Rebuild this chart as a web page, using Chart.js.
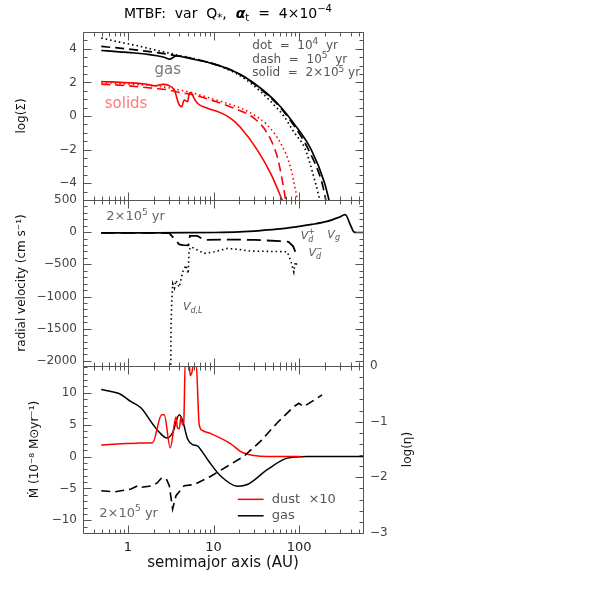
<!DOCTYPE html>
<html>
<head>
<meta charset="utf-8">
<script src="https://cdn.jsdelivr.net/npm/chart.js@4.4.0/dist/chart.umd.min.js"></script>
<style>
html, body { margin: 0; padding: 0; background: #fff; }
#wrap { position: relative; width: 598px; height: 598px; }
canvas { position: absolute; left: 0; }
</style>
</head>
<body>
<div id="wrap">
  <canvas id="pSigma" width="598" height="215" style="top:0px"></canvas>
  <canvas id="pVel" width="598" height="196" style="top:185px"></canvas>
  <canvas id="pMdot" width="598" height="247" style="top:351px"></canvas>
</div>
<script>
const FONT = '"DejaVu Sans", sans-serif';
const X_MIN = 0.313, X_MAX = 555;

// x ticks (semimajor axis, AU)
const xMajor = [1, 10, 100];
const xMinor = [0.4, 0.5, 0.6, 0.7, 0.8, 0.9, 2, 3, 4, 5, 6, 7, 8, 9,
                20, 30, 40, 50, 60, 70, 80, 90, 200, 300, 400, 500];

// panel 1: log(Sigma)
const sigmaTicks = [-4, -2, 0, 2, 4];
const gasR_1e4 = [0.49, 0.8, 1.3, 2, 3, 4, 5.5, 9.3, 15, 22.7, 35.5, 55.5, 66, 86.5, 118, 155, 180];
const gasSig_1e4 = [4.64, 4.4, 4.18, 3.95, 3.75, 3.6, 3.45, 3.15, 2.75, 2.25, 1.45, 0.45, 0, -0.95, -2, -4, -5.3];
const gasR_1e5 = [0.49, 0.8, 1.3, 2, 2.8, 3.6, 5, 9.3, 15, 22.7, 35.5, 55.5, 86.5, 128, 185, 210];
const gasSig_1e5 = [4.14, 4.04, 3.92, 3.8, 3.7, 3.6, 3.48, 3.15, 2.8, 2.33, 1.6, 0.7, -0.55, -2, -4, -5.3];
const gasR_2e5 = [0.49, 0.8, 1.2, 1.8, 2.44, 2.8, 3.05, 3.3, 3.65, 5, 9.3, 15, 22.7, 35.5, 55.5, 86.5, 138, 198, 230];
const gasSig_2e5 = [3.9, 3.82, 3.75, 3.65, 3.54, 3.45, 3.38, 3.45, 3.58, 3.45, 3.15, 2.8, 2.35, 1.65, 0.76, -0.44, -2, -4, -5.3];

const solR_1e4 = [0.49, 1, 2.44, 4, 5.95, 10, 20, 29.8, 42.4, 60.8, 79, 90.5, 98];
const solSig_1e4 = [2.0, 1.9, 1.75, 1.55, 1.35, 1.0, 0.5, 0.06, -0.54, -1.63, -3.03, -4.42, -5.3];
const solR_1e5 = [0.49, 1, 2, 3, 4, 5.95, 10, 17.4, 29.8, 42.4, 55.5, 63.4, 71];
const solSig_1e5 = [1.9, 1.8, 1.65, 1.55, 1.4, 1.25, 0.9, 0.46, -0.14, -1.03, -2.43, -3.82, -5.3];
const solR_2e5 = [0.49, 1, 1.6, 2.1, 2.55, 3.0, 3.48, 3.98, 4.25, 4.55, 5.0, 5.2, 5.5, 5.8, 6.5, 8.5, 12, 15.9, 20.8, 32.5, 46.4, 67];
const solSig_2e5 = [2.05, 1.98, 1.9, 1.8, 1.88, 1.82, 1.55, 0.66, 0.55, 0.95, 0.85, 1.35, 1.4, 1.15, 0.76, 0.46, 0.2, -0.14, -0.7, -2.03, -3.42, -5.3];

// panel 2: radial velocity (cm/s)
const velTicks = [500, 0, -500, -1000, -1500, -2000];
const vgR = [0.49, 2, 5, 10, 20, 35.5, 60, 86.5, 140, 211, 290, 345, 395, 431, 470, 555];
const vgVal = [-10, -10, -8, -5, 5, 25, 50, 78, 120, 167, 230, 272, 115, 10, -5, -5];
const vdPlusR = [0.49, 1, 2, 3.05, 3.98, 4.4, 5.1, 5.3, 6.5, 7.8, 15, 30, 60, 75, 85, 90, 93];
const vdPlusVal = [-12, -12, -12, -15, -190, -200, -205, -58, -58, -120, -115, -120, -140, -150, -220, -305, -250];
const vdLR = [3.17, 3.19, 3.25, 3.34, 3.5, 3.65, 3.98, 4.36, 4.76, 5.06, 5.2, 5.45, 6.5, 7.8, 10.2, 14.5, 20, 27, 50, 72.5, 80, 86.5, 90, 95];
const vdLVal = [-2200, -1500, -1100, -800, -870, -750, -855, -620, -514, -645, -278, -226, -278, -330, -305, -252, -270, -294, -300, -305, -450, -619, -460, -520];

// panel 3: Mdot (1e-8 Msun/yr) and log(eta)
const mdotTicks = [10, 5, 0, -5, -10];
const etaTicks = [0, -1, -2, -3];
const mdotGasR = [0.49, 0.8, 1.09, 1.43, 1.95, 2.33, 2.86, 3.33, 3.98, 4.36, 4.97, 5.7, 6.5, 7.4, 8.9, 12.2, 19, 24.8, 42.4, 72.5, 123, 555];
const mdotGas = [10.5, 9.84, 8.6, 7.6, 5.1, 3.8, 2.9, 3.73, 6.57, 5.65, 2.8, 1.86, 1.66, 0.73, -0.82, -3.1, -4.66, -4.4, -2.07, -0.25, 0, 0];
const mdotDustR = [0.49, 1.3, 1.95, 2.48, 2.66, 3.13, 3.65, 3.8, 3.98, 4.17, 4.35, 4.5, 4.68, 5.2, 5.34, 5.6, 5.95, 6.25, 6.8, 7.4, 9.3, 15.9, 20.8, 29.8, 42.4, 105];
const mdotDust = [1.82, 2.1, 2.17, 6.57, 6.57, 1.35, 6.2, 4.5, 4.35, 6.2, 5.0, 5.5, 15, 15, 12.7, 13.2, 15, 15, 5.1, 4.1, 3.6, 2.0, 0.78, 0.15, 0, 0];
const etaR = [0.49, 0.7, 1.09, 1.31, 1.43, 1.95, 2.2, 2.44, 2.8, 3.05, 3.33, 3.65, 4.55, 5.95, 9.3, 14.5, 22.7, 35.5, 55.5, 86.5, 99, 113, 185];
const logEta = [-2.24, -2.26, -2.21, -2.15, -2.18, -2.15, -2.1, -2.02, -2.02, -2.15, -2.57, -2.33, -2.15, -2.13, -1.98, -1.8, -1.62, -1.35, -1.02, -0.73, -0.67, -0.73, -0.52];

const RED = '#ff0000';
const DASH = [9, 5];
const LONGDASH = [14, 6];
const DOT = [1.5, 3];

function line(xs, ys, color, dash, width, axis, smooth) {
  return {
    data: xs.map((x, i) => ({x: x, y: ys[i]})),
    borderColor: color, borderWidth: width || 1.6, borderDash: dash || [],
    pointRadius: 0, fill: false, tension: smooth ? 0.4 : 0,
    cubicInterpolationMode: smooth ? 'monotone' : 'default',
    yAxisID: axis || 'y'
  };
}

function tickFmt(v) { return v < 0 ? '\u2212' + Math.abs(v) : String(v); }

function xAxis(show) {
  return {
    type: 'logarithmic', min: X_MIN, max: X_MAX, display: show,
    grid: {display: false, drawTicks: false}, border: {display: false},
    afterBuildTicks: s => { s.ticks = xMajor.map(v => ({value: v})); },
    ticks: {callback: v => String(v), color: '#222', font: {family: FONT, size: 13}, padding: 7, maxRotation: 0, autoSkip: false},
    title: {display: show, text: 'semimajor axis (AU)', color: '#111', font: {family: FONT, size: 15}, padding: {top: 2, bottom: 26}},
    afterFit: s => { if (show) s.height = 65; }
  };
}

function yAxis(min, max, major, title, titlePad, pos) {
  return {
    position: pos || 'left', min: min, max: max,
    grid: {display: false, drawTicks: false}, border: {display: false},
    afterBuildTicks: s => { s.ticks = major.map(v => ({value: v})); },
    ticks: {callback: tickFmt, color: '#444', font: {family: FONT, size: 12}, padding: pos === 'right' ? 7 : 6},
    title: {display: !!title, text: title || '', color: '#111', font: {family: FONT, size: 12}, padding: {top: titlePad || 0, bottom: 0}},
    afterFit: s => { s.width = pos === 'right' ? 60 : 83; }
  };
}

function runFont(kind, size) {
  const small = ['sub', 'sup', 'subit', 'stack'].includes(kind);
  const s = small ? Math.round(size * 0.72) : size;
  const st = kind === 'bi' ? 'italic bold ' : (kind === 'it' || kind === 'subit' || kind === 'stack') ? 'italic ' : '';
  return st + s + 'px ' + FONT;
}
function runWidth(ctx, r, size) {
  ctx.font = runFont(r[1], size);
  let w = ctx.measureText(r[0]).width;
  if (r[1] === 'stack') w = Math.max(w, ctx.measureText(r[2]).width);
  return w;
}
function drawRuns(ctx, runs, x, y, size, align, color) {
  const total = runs.reduce((s, r) => s + runWidth(ctx, r, size), 0);
  let cx = align === 'center' ? x - total / 2 : align === 'right' ? x - total : x;
  ctx.fillStyle = color;
  ctx.textAlign = 'left';
  ctx.textBaseline = 'middle';
  runs.forEach(r => {
    const w = runWidth(ctx, r, size);
    const k = r[1];
    if (k === 'sub' || k === 'subit') ctx.fillText(r[0], cx, y + size * 0.3);
    else if (k === 'sup') ctx.fillText(r[0], cx, y - size * 0.32);
    else if (k === 'stack') {
      ctx.fillText(r[0], cx, y + size * 0.35);
      ctx.fillText(r[2], cx, y - size * 0.4);
    } else ctx.fillText(r[0], cx, y);
    cx += w;
  });
}

function minorList(min, max, step, major) {
  const out = [];
  for (let k = Math.ceil(min / step - 1e-9); k * step <= max + 1e-9; k++) {
    const v = k * step;
    if (!major.some(m => Math.abs(m - v) < 1e-6)) out.push(v);
  }
  return out;
}

// frame, inward ticks, notes and keys
const marks = {
  id: 'marks',
  afterDraw(chart, args, o) {
    const {ctx, chartArea: a, scales} = chart;
    const L = Math.round(a.left) + 0.5, R = Math.round(a.right) + 0.5;
    const T = Math.round(a.top) + 0.5, B = Math.round(a.bottom) + 0.5;
    ctx.save();
    ctx.strokeStyle = '#555';
    ctx.lineWidth = 1;
    ctx.beginPath();
    ctx.moveTo(L, T); ctx.lineTo(R, T); ctx.lineTo(R, B); ctx.lineTo(L, B); ctx.closePath();
    const xs = scales.x;
    const addX = (v, len) => {
      const p = Math.round(xs.getPixelForValue(v)) + 0.5;
      ctx.moveTo(p, B); ctx.lineTo(p, B - len);
      ctx.moveTo(p, T); ctx.lineTo(p, T + len);
    };
    xMajor.forEach(v => addX(v, 8));
    xMinor.forEach(v => addX(v, 4));
    const addY = (side) => {
      if (!side) return;
      const sc = scales[side.id];
      const dir = side.right ? -1 : 1;
      const x0 = side.right ? R : L;
      const put = (v, len) => {
        const p = Math.round(sc.getPixelForValue(v)) + 0.5;
        if (p < T - 0.1 || p > B + 0.1) return;
        ctx.moveTo(x0, p); ctx.lineTo(x0 + dir * len, p);
      };
      side.major.forEach(v => put(v, 8));
      minorList(sc.min, sc.max, side.step, side.major).forEach(v => put(v, 4));
    };
    addY(o.left);
    addY(o.right);
    ctx.stroke();

    (o.keys || []).forEach(k => {
      const sc = scales[k.axis || 'y'];
      ctx.beginPath();
      ctx.strokeStyle = k.color;
      ctx.lineWidth = 1.5;
      const py = sc.getPixelForValue(k.y);
      ctx.moveTo(xs.getPixelForValue(k.x1), py);
      ctx.lineTo(xs.getPixelForValue(k.x2), py);
      ctx.stroke();
    });
    (o.notes || []).forEach(n => {
      const sc = scales[n.axis || 'y'];
      drawRuns(ctx, n.runs, xs.getPixelForValue(n.x), sc.getPixelForValue(n.y), n.size, n.align, n.color);
    });
    if (o.heading) {
      drawRuns(ctx, o.heading, (a.left + a.right) / 2 + 5, 14, 14, 'center', '#000');
    }
    if (o.rightTitle) {
      ctx.translate(o.rightTitle.x, (a.top + a.bottom) / 2);
      ctx.rotate(-Math.PI / 2);
      ctx.font = '12px ' + FONT;
      ctx.fillStyle = '#111';
      ctx.textAlign = 'center';
      ctx.textBaseline = 'middle';
      ctx.fillText(o.rightTitle.text, 0, 0);
    }
    ctx.restore();
  }
};

function makeChart(id, datasets, scales, padding, marksOpts) {
  return new Chart(document.getElementById(id), {
    type: 'line',
    data: {datasets: datasets},
    options: {
      responsive: false,
      animation: false,
      layout: {padding: padding},
      scales: scales,
      plugins: {legend: {display: false}, tooltip: {enabled: false}, marks: marksOpts}
    },
    plugins: [marks]
  });
}

// panel 1
makeChart('pSigma', [
  line(solR_1e4, solSig_1e4, RED, DOT, 1.6, 'y', true),
  line(solR_1e5, solSig_1e5, RED, DASH, 1.6, 'y', true),
  line(solR_2e5, solSig_2e5, RED, [], 1.6, 'y', true),
  line(gasR_1e4, gasSig_1e4, '#000', DOT, 1.7, 'y', true),
  line(gasR_1e5, gasSig_1e5, '#000', DASH, 1.7, 'y', true),
  line(gasR_2e5, gasSig_2e5, '#000', [], 1.7, 'y', true)
], {
  x: xAxis(false),
  y: yAxis(-5, 5, sigmaTicks, 'log(\u03A3)', 15)
}, {top: 32, bottom: 15, left: 0, right: 235}, {
  left: {id: 'y', major: sigmaTicks, step: 0.5},
  right: {id: 'y', major: sigmaTicks, step: 0.5, right: true},
  heading: [['MTBF:  var  Q', ''], ['*', 'sub'], [',  ', ''], ['\u03B1', 'bi'], ['t', 'sub'], ['  =  4\u00D710', ''], ['\u22124', 'sup']],
  notes: [
    {runs: [['gas', '']], x: 2.92, y: 2.75, color: '#777', size: 15, align: 'center'},
    {runs: [['solids', '']], x: 0.955, y: 0.72, color: '#ff7a7a', size: 15, align: 'center'},
    {runs: [['dot  =  10', ''], ['4', 'sup'], ['  yr', '']], x: 28.4, y: 4.18, color: '#555', size: 12, align: 'left'},
    {runs: [['dash  =  10', ''], ['5', 'sup'], ['  yr', '']], x: 28.4, y: 3.34, color: '#555', size: 12, align: 'left'},
    {runs: [['solid  =  2\u00D710', ''], ['5', 'sup'], [' yr', '']], x: 28.4, y: 2.55, color: '#555', size: 12, align: 'left'}
  ]
});

// panel 2
makeChart('pVel', [
  line(vdLR, vdLVal, '#000', DOT, 1.6),
  line(vdPlusR, vdPlusVal, '#000', LONGDASH, 1.8),
  line(vgR, vgVal, '#000', [], 1.7, 'y', true)
], {
  x: xAxis(false),
  y: yAxis(-2080, 500, velTicks, 'radial velocity (cm s\u207B\u00B9)', 15)
}, {top: 15, bottom: 15, left: 0, right: 235}, {
  left: {id: 'y', major: velTicks, step: 100},
  right: {id: 'y', major: velTicks, step: 100, right: true},
  notes: [
    {runs: [['2\u00D710', ''], ['5', 'sup'], [' yr', '']], x: 0.56, y: 245, color: '#666', size: 13, align: 'left'},
    {runs: [['V', 'it'], ['d', 'stack', '+']], x: 104, y: -58, color: '#555', size: 11, align: 'left'},
    {runs: [['V', 'it'], ['g', 'subit']], x: 213, y: -42, color: '#555', size: 11, align: 'left'},
    {runs: [['V', 'it'], ['d', 'stack', '\u2212']], x: 128, y: -325, color: '#555', size: 11, align: 'left'},
    {runs: [['V', 'it'], ['d,L', 'subit']], x: 4.4, y: -1170, color: '#555', size: 11, align: 'left'}
  ]
});

// panel 3
makeChart('pMdot', [
  line(etaR, logEta, '#000', DASH, 1.6, 'y2'),
  line(mdotDustR, mdotDust, RED, [], 1.5, 'y', true),
  line(mdotGasR, mdotGas, '#000', [], 1.5, 'y', true)
], {
  x: xAxis(true),
  y: yAxis(-12, 14.2, mdotTicks, '\u1E40 (10\u207B\u2078 M\u2299yr\u207B\u00B9)', 28),
  y2: yAxis(-3, 0, etaTicks, '', 0, 'right')
}, {top: 15, bottom: 0, left: 0, right: 175}, {
  left: {id: 'y', major: mdotTicks, step: 1},
  right: {id: 'y2', major: etaTicks, step: 0.2, right: true},
  rightTitle: {text: 'log(\u03B7)', x: 408},
  keys: [
    {x1: 19.2, x2: 38.4, y: -6.72, color: RED},
    {x1: 19.2, x2: 38.4, y: -9.3, color: '#000'}
  ],
  notes: [
    {runs: [['dust  \u00D710', '']], x: 47.9, y: -6.72, color: '#555', size: 13, align: 'left'},
    {runs: [['gas', '']], x: 47.9, y: -9.3, color: '#555', size: 13, align: 'left'},
    {runs: [['2\u00D710', ''], ['5', 'sup'], [' yr', '']], x: 0.465, y: -8.9, color: '#666', size: 13, align: 'left'}
  ]
});
</script>
</body>
</html>
